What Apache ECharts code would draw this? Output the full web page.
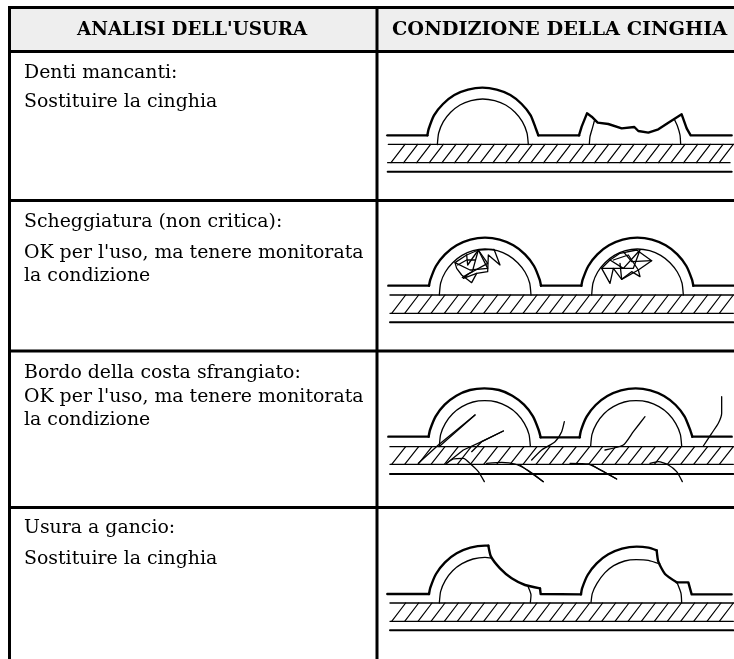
<!DOCTYPE html>
<html><head><meta charset="utf-8">
<style>html,body{margin:0;padding:0;background:#fff}#c{width:734px;height:659px}</style>
<script src="https://cdn.jsdelivr.net/npm/echarts@6/dist/echarts.min.js"></script>
</head><body><div id="c"></div>
<script>
// ---------- table content ----------
const headers = [
  ["ANALISI DELL'USURA", 77, 30, 18.3],
  ["CONDIZIONE DELLA CINGHIA", 392, 30, 19.3]
];
const bodyLines = [
  ["Denti mancanti:", 24, 73], ["Sostituire la cinghia", 24, 102],
  ["Scheggiatura (non critica):", 24, 222], ["OK per l'uso, ma tenere monitorata", 24, 253], ["la condizione", 24, 276],
  ["Bordo della costa sfrangiato:", 24, 373], ["OK per l'uso, ma tenere monitorata", 24, 397], ["la condizione", 24, 420],
  ["Usura a gancio:", 24, 528], ["Sostituire la cinghia", 24, 559]
];
const tableRules = [
  [[8,7.5],[734,7.5]], [[8,51.5],[734,51.5]], [[8,200.5],[734,200.5]], [[8,351],[734,351]], [[8,507.5],[734,507.5]],
  [[9.5,6],[9.5,659]], [[377,6],[377,659]]
];
const headerBand = [[11,9],[734,50]];

// ---------- drawings: coordinates in each panel's own units ----------
const panel1Arcs = [
  [[157,406],[161,387],[177,346],[204,312],[238,285],[279,269],[322,263],[365,269],[406,285],[440,312],[467,346],[483,387],[490,406]]
];
const panel1Thick = [
  [[37,406],[157,406]], [[490,406],[612,406]],
  [[612,406],[620,380],[636,340],[650,350],[668,368],[700,372],[740,385],[778,381],[790,393],[820,398],[850,388],[880,368],[920,343],[935,385],[947,406],[1070,406]]
];
const panel1Inner = [
  [[187,434],[191,399],[205,365],[227,337],[255,315],[288,302],[323,297],[359,302],[392,315],[420,337],[442,365],[456,399],[460,434]],
  [[643,433],[645,410],[652,385],[658,363]],
  [[917,433],[915,405],[908,380],[898,358]]
];
const panel1Thin = [];
const panel1Hatch = [90,128,167,205,243,281,319,358,396,434,472,510,548,587,625,663,701,739,777,816,854,892,930,968,1006,1044,1075];

const panel2Arcs = [
  [[162,257],[166,239],[183,198],[210,163],[245,136],[286,119],[330,113],[374,119],[415,136],[450,163],[477,198],[494,239],[498,257]],
  [[619,257],[623,239],[640,198],[667,163],[702,136],[743,119],[787,113],[831,119],[872,136],[907,163],[934,198],[951,239],[955,257]]
];
const panel2Thick = [[[40,257],[162,257]], [[498,257],[619,257]], [[955,257],[1075,257]]];
const panel2Inner = [
  [[193,285],[197,249],[211,216],[233,188],[261,166],[294,152],[330,147],[367,152],[400,166],[428,188],[450,216],[464,249],[468,285]],
  [[650,285],[654,249],[668,216],[690,188],[718,166],[751,152],[787,147],[824,152],[857,166],[885,188],[907,216],[921,249],[925,285]]
];
const panel2Thin = [
  [[240,188],[275,165],[310,150],[357,148],[375,195],[340,165],[338,215],[305,220],[290,248],[260,225],[245,205],[240,188]],
  [[275,165],[278,195],[310,150],[338,190],[280,222],[265,235],[305,220]],
  [[240,188],[285,210],[338,205],[310,150],[292,215],[262,232]],
  [[248,195],[275,180],[300,180]],
  [[680,205],[705,180],[735,160],[785,150],[830,182],[790,210],[795,230],[770,215],[740,238],[715,205],[705,250],[680,205]],
  [[705,180],[745,205],[795,150],[775,205],[715,205],[680,205]],
  [[715,180],[760,165],[790,210],[740,238],[735,190]],
  [[745,155],[770,185],[830,182]]
];
const panel2Hatch = [92,131,171,210,250,289,328,368,407,447,486,525,565,604,644,683,722,762,801,841,880,919,959,998,1038,1075];

const panel3Arcs = [
  [[161,260],[165,240],[182,199],[209,164],[244,137],[285,120],[328,115],[372,120],[412,137],[447,164],[474,199],[491,240],[497,262]],
  [[614,262],[618,241],[635,200],[662,165],[697,138],[738,121],[782,115],[826,121],[867,138],[902,165],[929,200],[946,241],[952,260]]
];
const panel3Thick = [[[40,260],[161,260]], [[497,262],[614,262]], [[952,260],[1070,260]]];
const panel3Inner = [
  [[193,288],[197,253],[211,220],[233,191],[261,170],[294,156],[329,152],[365,156],[398,170],[426,191],[448,220],[462,253],[466,288]],
  [[647,288],[651,253],[665,220],[687,191],[715,170],[748,156],[783,152],[819,156],[852,170],[880,191],[902,220],[916,253],[920,288]],
  [[470,330],[500,300],[540,275],[560,245],[568,215]],
  [[690,300],[745,285],[775,245],[810,200]],
  [[985,288],[1010,250],[1030,220],[1040,190],[1040,140]],
  [[215,340],[235,327],[265,325],[290,345],[310,365],[328,395]],
  [[335,340],[380,337],[420,342],[460,362],[505,395]],
  [[585,340],[640,342],[680,362],[725,387]],
  [[825,340],[850,335],[880,345],[905,365],[922,395]]
];
const panel3Thin = [[[130,340],[190,285],[300,195]], [[192,290],[300,195]], [[215,340],[265,300],[320,275],[385,243]], [[290,305],[320,275],[385,243]], [[435,345],[505,395]], [[650,345],[725,387]]];
const panel3Hatch = [92,131,171,210,250,289,328,368,407,447,486,525,565,604,644,683,722,762,801,841,880,919,959,998,1038,1075];

const panel4Arcs = [
  [[162,282],[166,263],[183,222],[210,187],[245,160],[286,143],[330,137],[340,137]],
  [[340,137],[348,170],[375,205],[410,235],[450,255],[495,265]],
  [[618,283],[621,266],[638,225],[665,190],[700,163],[741,146],[785,140],[820,143],[845,151]],
  [[845,151],[850,185],[870,222],[905,247]]
];
const panel4Thick = [
  [[37,282],[162,282]], [[495,265],[497,282],[618,283]],
  [[905,247],[940,247],[950,283],[1070,283]]
];
const panel4Inner = [
  [[193,309],[197,274],[211,241],[233,212],[261,191],[294,177],[330,172],[350,174]],
  [[460,262],[468,285],[466,308]],
  [[648,308],[652,280],[666,250],[690,218],[716,197],[749,183],[784,179],[820,181],[855,192]],
  [[907,250],[918,280],[920,308]]
];
const panel4Thin = [];
const panel4Hatch = [92,131,171,210,250,289,328,368,407,447,486,525,565,604,644,683,722,762,801,841,880,919,959,998,1038,1075];

const panelBelts = [
  {top:433, bottom:488, back:515, x:[[40,1075],[38,1065],[38,1070]]},
  {top:285, bottom:340, back:367, x:[[45,1075],[45,1075],[45,1075]]},
  {top:290, bottom:343, back:372, x:[[45,1075],[45,1075],[45,1075]]},
  {top:309, bottom:364, back:391, x:[[45,1075],[45,1075],[45,1075]]}
];
const panelBoxes = [[375,0,359,200],[375,200,359,150],[375,350,359,150],[375,500,359,159]];
const panels = [
  [panel1Arcs,panel1Thick,panel1Inner,panel1Thin,panel1Hatch],
  [panel2Arcs,panel2Thick,panel2Inner,panel2Thin,panel2Hatch],
  [panel3Arcs,panel3Thick,panel3Inner,panel3Thin,panel3Hatch],
  [panel4Arcs,panel4Thick,panel4Inner,panel4Thin,panel4Hatch]
];

// ---------- option ----------
const grid=[{left:0,top:0,width:734,height:659}], xAxis=[{type:'value',min:0,max:734,show:false}], yAxis=[{type:'value',min:0,max:659,inverse:true,show:false}];
const series=[];
panelBoxes.forEach(b=>{
  grid.push({left:b[0],top:b[1],width:b[2],height:b[3]});
  xAxis.push({type:'value',min:0,max:b[2]*3,show:false,gridIndex:grid.length-1});
  yAxis.push({type:'value',min:0,max:b[3]*3,inverse:true,show:false,gridIndex:grid.length-1});
});
function stroke(pts,ax,w,smooth){
  series.push({type:'line',data:pts,xAxisIndex:ax,yAxisIndex:ax,showSymbol:false,symbol:'none',smooth:smooth?0.2:false,clip:false,silent:true,animation:false,z:3,
    lineStyle:{color:'#000',width:w,cap:'round',join:'round'}});
}
series.push({type:'line',data:[],xAxisIndex:0,yAxisIndex:0,silent:true,animation:false,
  markArea:{silent:true,itemStyle:{color:'#eeeeee'},data:[[{xAxis:headerBand[0][0],yAxis:headerBand[0][1]},{xAxis:headerBand[1][0],yAxis:headerBand[1][1]}]]}});
tableRules.forEach(r=>series.push({type:'line',data:r,xAxisIndex:0,yAxisIndex:0,showSymbol:false,symbol:'none',clip:false,silent:true,animation:false,z:4,lineStyle:{color:'#000',width:3,cap:'butt'}}));
panels.forEach((p,i)=>{
  const ax=i+1, belt=panelBelts[i];
  p[0].forEach(s=>stroke(s,ax,2.4,true));
  p[1].forEach(s=>stroke(s,ax,2.4,false));
  p[2].forEach(s=>stroke(s,ax,1.3,true));
  p[3].forEach(s=>stroke(s,ax,1.3,false));
  stroke([[belt.x[0][0],belt.top],[belt.x[0][1],belt.top]],ax,1.4,false);
  stroke([[belt.x[1][0],belt.bottom],[belt.x[1][1],belt.bottom]],ax,1.4,false);
  stroke([[belt.x[2][0],belt.back],[belt.x[2][1],belt.back]],ax,2,false);
  p[4].forEach(x=>stroke([[x,belt.top],[x-42,belt.bottom]],ax,1.2,false));
});
function textSeries(rows,fontSize,fontWeight){
  series.push({type:'scatter',xAxisIndex:0,yAxisIndex:0,symbolSize:0,silent:true,animation:false,z:5,clip:false,
    data:rows.map(r=>({value:[r[1],r[2]],label:{show:true,position:'right',distance:0,formatter:()=>r[0],color:'#000',opacity:1,fontFamily:'DejaVu Serif',fontSize:r[3]||fontSize,fontWeight}}))});
}
textSeries(headers,19,'bold');
textSeries(bodyLines,18.9,'normal');

const chart=echarts.init(document.getElementById('c'),null,{renderer:'canvas'});
chart.setOption({animation:false,backgroundColor:'#fff',tooltip:{show:false},grid,xAxis,yAxis,series});
</script></body></html>
